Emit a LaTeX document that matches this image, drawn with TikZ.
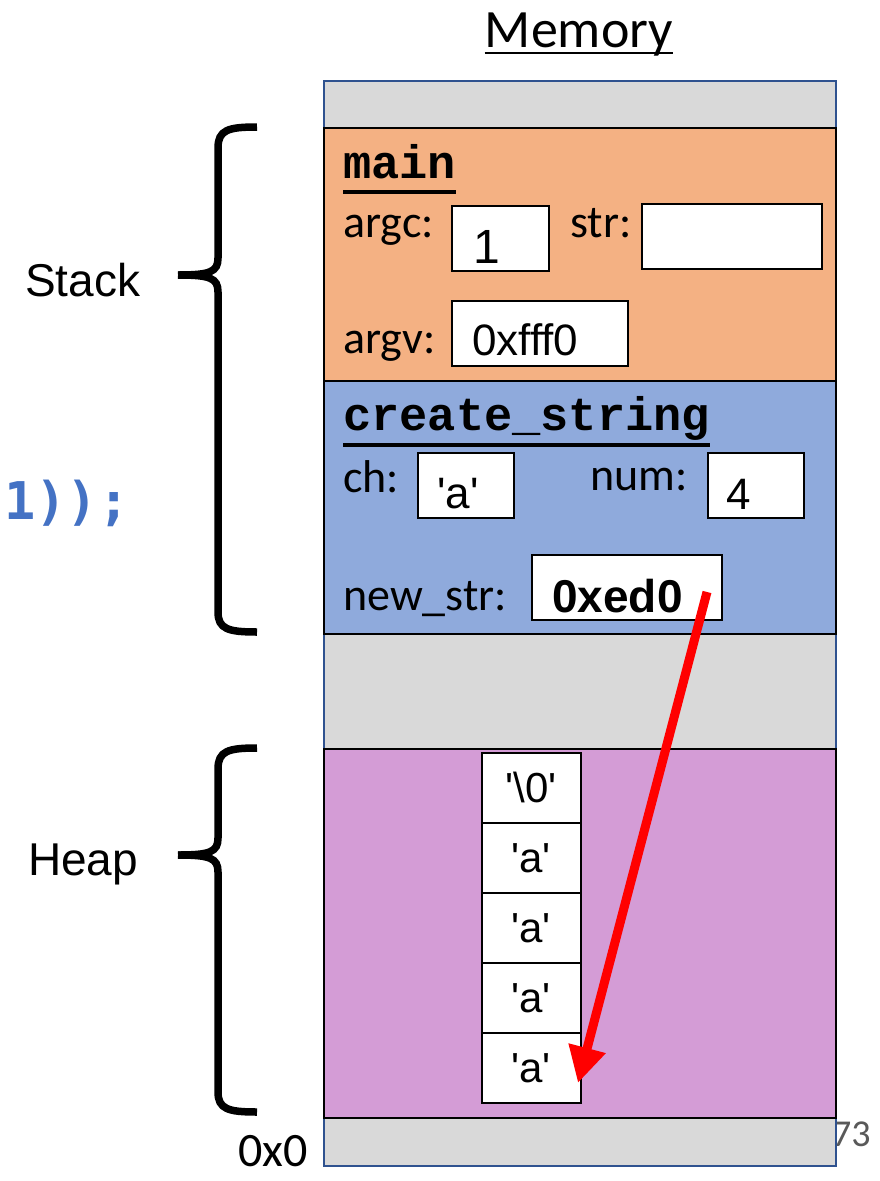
\documentclass[tikz,border=0pt]{standalone}
\usepackage{fontspec}
\setmainfont{Liberation Sans}
\newfontfamily\calib{Carlito}
\newfontfamily\cour{Liberation Mono}
\newfontfamily\consol{DejaVu Sans Mono}
\newfontfamily\arialbold{Liberation Sans Bold}
\usetikzlibrary{arrows.meta}
\newcommand{\myq}{\textquotesingle}
\definecolor{memgray}{HTML}{D9D9D9}
\definecolor{memborder}{HTML}{2F528F}
\definecolor{mainorange}{HTML}{F4B183}
\definecolor{csblue}{HTML}{8FAADC}
\definecolor{heappink}{HTML}{D49CD6}
\definecolor{codeblue}{HTML}{4472C4}
\definecolor{pagegray}{HTML}{595959}
\definecolor{ptrred}{HTML}{FF0000}
\tikzset{
  frame/.style={draw=black, line width=1.5pt, anchor=north west, inner sep=0pt},
  valbox/.style={draw=black, line width=1.5pt, fill=white, anchor=north west, inner sep=0pt, minimum height=65pt},
  heapcell/.style={draw=black, line width=1.5pt, fill=white, anchor=north west, inner sep=0pt,
     minimum width=99pt, minimum height=70pt, font=\fontsize{42}{46}\selectfont},
  lbl/.style={anchor=base west, inner sep=0pt, font=\calib\fontsize{46}{50}\selectfont},
  val/.style={anchor=base west, inner sep=0pt, font=\fontsize{44}{48}\selectfont},
  fname/.style={anchor=base west, inner sep=0pt, font=\cour\bfseries\fontsize{47}{50}\selectfont},
  sidelbl/.style={anchor=base west, inner sep=0pt, font=\fontsize{46}{50}\selectfont},
  bracket/.style={draw=black, line width=7.5pt},
  ptr/.style={draw=ptrred, line width=9pt, -{Triangle[width=36pt,length=36pt]}},
}
\begin{document}
\begin{tikzpicture}[x=1pt,y=-1pt]
\useasboundingbox (0,0) rectangle (879,1181);
% page number (partly behind memory column)
\node[anchor=base west, inner sep=0pt, text=pagegray, font=\calib\fontsize{38}{42}\selectfont] (pnum) at (832,1146) {73};
% memory column
\node[draw=memborder, line width=2pt, fill=memgray, anchor=north west, inner sep=0pt,
      minimum width=512pt, minimum height=1085pt] (mem) at (323,80) {};
\node[frame, fill=mainorange, minimum width=512pt, minimum height=253pt] (mainf) at (323,127) {};
\node[frame, fill=csblue, minimum width=512pt, minimum height=253pt] (csf) at (323,380) {};
\node[frame, fill=heappink, minimum width=512pt, minimum height=369pt] (heapf) at (323,748) {};
% title
\node[anchor=base, inner sep=0pt, font=\calib\fontsize{54}{58}\selectfont] (memt) at (579,47) {Memory};
\draw[line width=2.5pt] ([yshift=-6pt]memt.base west) -- ([yshift=-6pt]memt.base east);
% main frame
\node[fname] (mainlbl) at (343,178) {main};
\draw[line width=4.5pt] ([yshift=-14pt]mainlbl.base west) -- ([yshift=-14pt]mainlbl.base east);
\node[lbl] (argclbl) at (343,237) {argc:};
\node[valbox, minimum width=97pt] (argcbox) at (451,205) {};
\node[val, font=\fontsize{48}{52}\selectfont] (argcval) at (473,263) {1};
\node[lbl] (strlbl) at (570,237) {str:};
\node[valbox, minimum width=180pt] (strbox) at (641,203) {};
\node[lbl] (argvlbl) at (343,353) {argv:};
\node[valbox, minimum width=176pt] (argvbox) at (451,300) {};
\node[val] (argvval) at (472,355) {0xfff0};
% create_string frame
\node[fname] (cslbl) at (343,430) {create\_string};
\draw[line width=4.5pt] ([yshift=-15pt]cslbl.base west) -- ([yshift=-15pt]cslbl.base east);
\node[lbl] (chlbl) at (343,492) {ch:};
\node[valbox, minimum width=96pt] (chbox) at (417,452) {};
\node[val] (chval) at (437,508) {\myq a\myq};
\node[lbl] (numlbl) at (590,490) {num:};
\node[valbox, minimum width=96pt] (numbox) at (707,452) {};
\node[val] (numval) at (726,509) {4};
\node[lbl] (nslbl) at (343,610) {new\_str:};
\node[valbox, minimum width=190pt] (nsbox) at (531,554) {};
\node[val, font=\arialbold\fontsize{46}{50}\selectfont] (nsval) at (552,612) {0xed0};
% heap cells
\node[heapcell] (c1) at (481,752) {\myq\textbackslash 0\myq};
\node[heapcell] (c2) at (481,822) {\myq a\myq};
\node[heapcell] (c3) at (481,892) {\myq a\myq};
\node[heapcell] (c4) at (481,962) {\myq a\myq};
\node[heapcell] (c5) at (481,1032) {\myq a\myq};
% pointer
\coordinate (ptrstart) at (707,592);
\coordinate (ptrend) at (578,1083);
\draw[ptr] (ptrstart) -- (ptrend);
% braces
\draw[bracket] (257,127) .. controls (228,127) and (218,130) .. (218,148) -- (218,258)
   .. controls (218,272) and (210,275) .. (178,275);
\draw[bracket] (178,275) .. controls (210,275) and (218,278) .. (218,292) -- (218,612)
   .. controls (218,629) and (228,632) .. (257,632);
\draw[bracket] (257,748) .. controls (228,748) and (218,751) .. (218,769) -- (218,838)
   .. controls (218,852) and (210,855) .. (178,855);
\draw[bracket] (178,855) .. controls (210,855) and (218,858) .. (218,872) -- (218,1092)
   .. controls (218,1109) and (228,1112) .. (257,1112);
% side labels
\node[sidelbl] (stacklbl) at (25,296) {Stack};
\node[sidelbl] (heaplbl) at (28,875) {Heap};
\node[anchor=base west, inner sep=0pt, text=codeblue, font=\consol\bfseries\fontsize{52}{56}\selectfont] (code) at (4,519) {1));};
\node[anchor=base west, inner sep=0pt, font=\calib\fontsize{48}{52}\selectfont] (addr0) at (238,1166) {0x0};
\end{tikzpicture}
\end{document}
